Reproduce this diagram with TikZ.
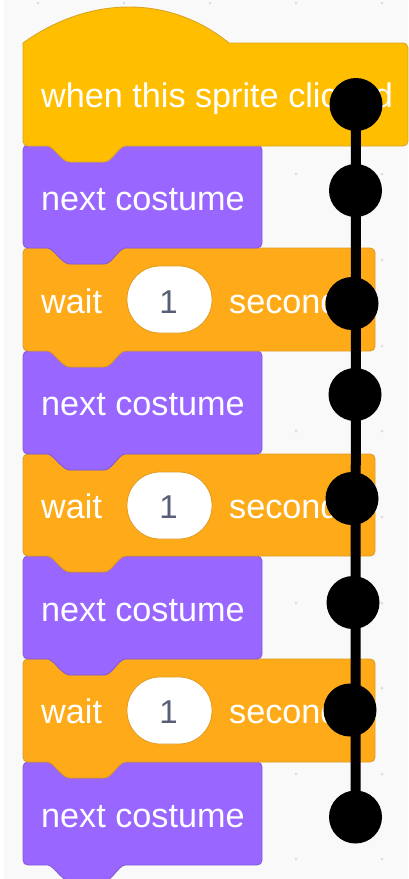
\documentclass[tikz,border=0pt]{standalone}
\usepackage{fontspec}
\setmainfont{Liberation Sans}
\definecolor{canvas}{HTML}{F9F9F9}
\definecolor{griddot}{HTML}{DDDDDD}
\definecolor{hatfill}{HTML}{FFBF00}
\definecolor{hatline}{HTML}{D9A520}
\definecolor{looksfill}{HTML}{9966FF}
\definecolor{looksline}{HTML}{855CD6}
\definecolor{ctrlfill}{HTML}{FFAB19}
\definecolor{ctrlline}{HTML}{DE9A22}
\definecolor{pilltext}{HTML}{575E75}
\tikzset{
  blocktext/.style={text=white,anchor=base west,inner sep=0pt,font=\fontsize{34.2}{34.2}\selectfont},
  pillbox/.style={fill=white,draw=ctrlline,line width=0.8pt,rounded corners=33pt},
  pilltxt/.style={text=pilltext,inner sep=0pt,anchor=base,font=\fontsize{33}{33}\selectfont},
  dotmark/.style={circle,fill=black,minimum size=53pt,inner sep=0pt},
  gridmark/.style={circle,fill=griddot,minimum size=3pt,inner sep=0pt},
  spine/.style={line width=10pt,black}
}
% #1 fill, #2 line, #3 top, #4 bottom, #5 right
\newcommand{\stackblock}[5]{%
  \draw[fill=#1,draw=#2,line width=0.9pt,line join=round]
    (23,#3+5) .. controls (23,#3+2) and (25,#3) .. (28,#3) -- (48,#3)
    .. controls (54,#3+1) and (62,#3+16) .. (70,#3+16) -- (104,#3+16)
    .. controls (112,#3+16) and (118,#3+1) .. (125,#3) -- (#5-5,#3)
    .. controls (#5-2,#3) and (#5,#3+2) .. (#5,#3+5) -- (#5,#4-5)
    .. controls (#5,#4-2) and (#5-2,#4) .. (#5-5,#4) -- (125,#4)
    .. controls (118,#4+1) and (112,#4+16) .. (104,#4+16) -- (70,#4+16)
    .. controls (62,#4+16) and (54,#4+1) .. (48,#4) -- (28,#4)
    .. controls (25,#4) and (23,#4-2) .. (23,#4-5) -- cycle;}
\begin{document}
\begin{tikzpicture}[x=1pt,y=-1pt]
\useasboundingbox (0,0) rectangle (408,879);
\fill[white] (0,0) rectangle (408,879);
\fill[canvas] (4,0) rectangle (408,879);
% workspace grid
\foreach \gx in {38,124,210,296,382}
  \foreach \gy in {3,89,174,260,346,431,517,603,688,774,859}
    \node[gridmark] at (\gx,\gy) {};
% blocks, lowest first so that each notch lies over the next block
\stackblock{looksfill}{looksline}{762}{865}{262}
\stackblock{ctrlfill}{ctrlline}{659}{762}{375}
\stackblock{looksfill}{looksline}{556}{659}{262}
\stackblock{ctrlfill}{ctrlline}{454}{556}{375}
\stackblock{looksfill}{looksline}{351}{454}{262}
\stackblock{ctrlfill}{ctrlline}{248}{351}{375}
\stackblock{looksfill}{looksline}{145}{248}{262}
% hat block
\draw[fill=hatfill,draw=hatline,line width=0.9pt,line join=round]
  (23,43) .. controls (90,-5) and (170,-5) .. (229,43) -- (402,43)
  .. controls (406,43) and (408,45) .. (408,48) -- (408,141)
  .. controls (408,144) and (406,146) .. (403,146) -- (125,146)
  .. controls (118,147) and (112,162) .. (104,162) -- (70,162)
  .. controls (62,162) and (54,147) .. (48,146) -- (28,146)
  .. controls (25,146) and (23,144) .. (23,141) -- cycle;
% block labels
\node[blocktext] (t0) at (41,107) {when this sprite clicked};
\node[blocktext] (n1) at (41,210) {next costume};
\node[blocktext] (w1) at (41,313) {wait};
\draw[pillbox] (127,266) rectangle (212,333);
\node[pilltxt] (v1) at (168.5,313) {1};
\node[blocktext] (s1) at (229,313) {seconds};
\node[blocktext] (n2) at (41,415) {next costume};
\node[blocktext] (w2) at (41,518) {wait};
\draw[pillbox] (127,472) rectangle (212,539);
\node[pilltxt] (v2) at (168.5,518) {1};
\node[blocktext] (s2) at (229,518) {seconds};
\node[blocktext] (n3) at (41,621) {next costume};
\node[blocktext] (w3) at (41,723) {wait};
\draw[pillbox] (127,677) rectangle (212,744);
\node[pilltxt] (v3) at (168.5,723) {1};
\node[blocktext] (s3) at (229,723) {seconds};
\node[blocktext] (n4) at (41,827) {next costume};
% black markers and spine
\node[dotmark] (d1) at (356,104.5) {};
\node[dotmark] (d2) at (355.5,190.5) {};
\node[dotmark] (d3) at (352,303.5) {};
\node[dotmark] (d4) at (355,394.5) {};
\node[dotmark] (d5) at (352,498.5) {};
\node[dotmark] (d6) at (353,602.5) {};
\node[dotmark] (d7) at (350,710) {};
\node[dotmark] (d8) at (355.5,817) {};
\draw[spine] (d1.center) -- (d8.center);
\end{tikzpicture}
\end{document}
